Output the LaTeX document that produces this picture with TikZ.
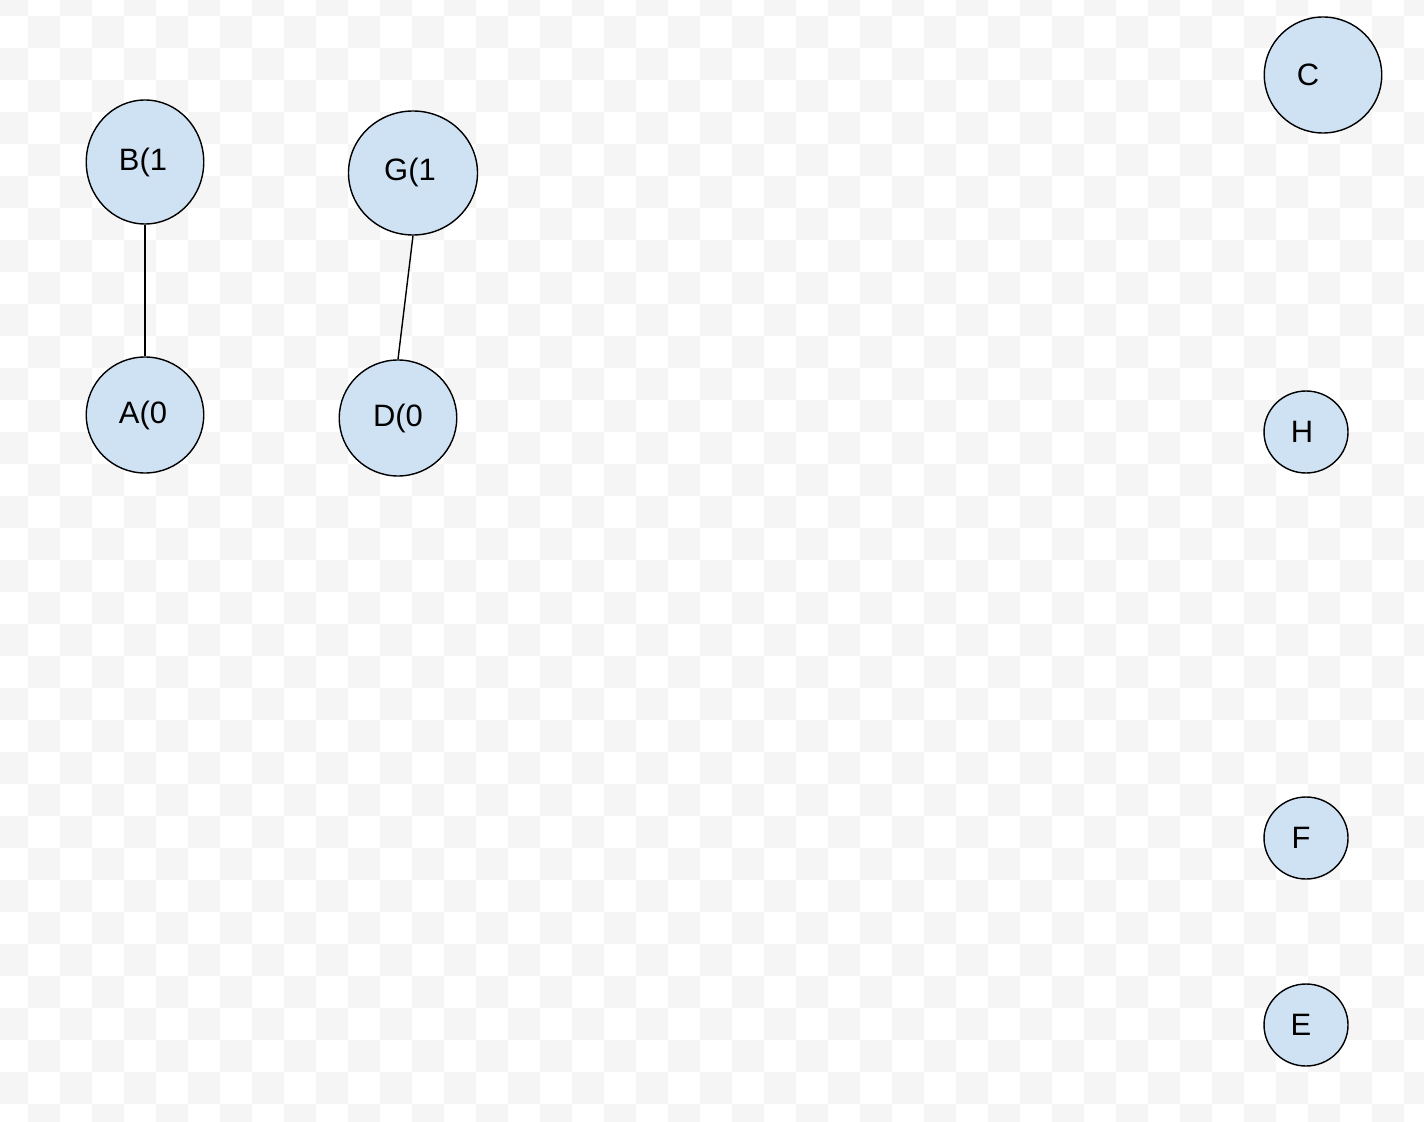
\documentclass[tikz,border=0pt]{standalone}
\usepackage{fontspec}
\setmainfont{Liberation Sans}
\usetikzlibrary{shapes.geometric}
\definecolor{nodeblue}{HTML}{CFE2F3}
\definecolor{checkgray}{HTML}{F5F5F5}
\tikzset{
  vertex/.style={ellipse, draw, line width=0.8pt, fill=nodeblue, inner sep=0pt,
    font=\fontsize{17.6}{20}\selectfont},
  bigvertex/.style={vertex, minimum width=23.5mm, minimum height=23.2mm},
  smallvertex/.style={vertex, minimum width=16.8mm, minimum height=16.4mm},
  edge/.style={line width=0.8pt}
}
\begin{document}
\begin{tikzpicture}[x=0.2mm,y=-0.2mm]
  \useasboundingbox (0,0) rectangle (1424,1122);
  \fill[white] (0,0) rectangle (1424,1122);
  \begin{scope}
    \clip (0,0) rectangle (1424,1122);
    \foreach \i in {0,...,44}
      \foreach \j in {0,...,35}{
        \pgfmathtruncatemacro{\parity}{mod(\i+\j,2)}
        \ifnum\parity=0
          \fill[checkgray] ({-4+32*\i},{-16+32*\j}) rectangle ++(32,32);
        \fi
      }
  \end{scope}

  \node[bigvertex, minimum height=24.8mm] (B) at (145,162) {B(1\hspace*{0.8mm}};
  \node[bigvertex, minimum width=25.8mm, minimum height=24.8mm] (G) at (413,173) {G(1\hspace*{1.2mm}};
  \node[bigvertex] (A) at (145,415) {A(0\hspace*{0.8mm}};
  \node[bigvertex] (D) at (398,418) {D(0};
  \node[bigvertex] (C) at (1323,75) {C\hspace*{6mm}};
  \node[smallvertex] (H) at (1306,432) {H\hspace*{1.6mm}};
  \node[smallvertex] (F) at (1306,838) {F\hspace*{2mm}};
  \node[smallvertex] (E) at (1306,1025) {E\hspace*{2mm}};

  \draw[edge] (B.south) -- (A.north);
  \draw[edge] (G.south) -- (D.north);
\end{tikzpicture}
\end{document}
